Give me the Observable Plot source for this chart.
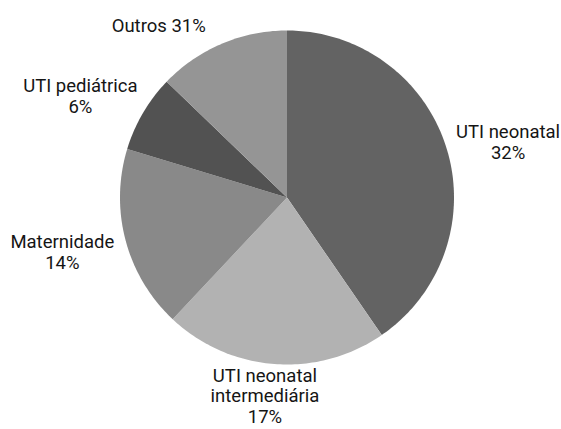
<!DOCTYPE html>
<html>
<head>
<meta charset="utf-8">
<script src="https://cdn.jsdelivr.net/npm/d3@7"></script>
<script src="https://cdn.jsdelivr.net/npm/@observablehq/plot@0.6"></script>
<style>
  html, body { margin: 0; padding: 0; background: #fff; }
  #chart svg { display: block; }
</style>
</head>
<body>
<div id="chart"></div>
<script>
// Categories, clockwise from 12 o'clock
const categories = ["UTI neonatal", "UTI neonatal intermediária", "Maternidade", "UTI pediátrica", "Outros"];
// Slice sizes as drawn in the picture (percent of the full circle)
const sliceShares = [40.4, 21.6, 17.7, 7.5, 12.8];
// Percent labels as printed on the chart
const labelPercents = ["32%", "17%", "14%", "6%", "31%"];
// Label text lines (name part)
const labelNames = [["UTI neonatal"], ["UTI neonatal", "intermediária"], ["Maternidade"], ["UTI pediátrica"], ["Outros"]];
const sliceColors = ["#636363", "#b2b2b2", "#898989", "#525252", "#959595"];

// layout of labels (polar, in pie-radius units) – not data
const labelLayout = [
  {angle: 71.6, radius: 1.395, inline: false},
  {angle: 187.4, radius: 1.026, inline: false},
  {angle: 260.8, radius: 1.363, inline: false},
  {angle: 300.1, radius: 1.430, inline: false},
  {angle: 324.5, radius: 1.323, inline: true}
];

const total = d3.sum(sliceShares);
const toRad = deg => deg * Math.PI / 180;

// Build slice polygons (center + arc), angles clockwise from north
const slicePoints = [];
let start = 0;
categories.forEach((cat, i) => {
  const sweep = sliceShares[i] / total * 360;
  const end = start + sweep;
  slicePoints.push({cat, i, x: 0, y: 0});
  const steps = Math.max(2, Math.ceil(sweep));
  for (let k = 0; k <= steps; k++) {
    const a = toRad(start + sweep * k / steps);
    slicePoints.push({cat, i, x: Math.sin(a), y: Math.cos(a)});
  }
  start = end;
});

const labels = categories.map((cat, i) => {
  const L = labelLayout[i];
  const a = toRad(L.angle);
  const text = L.inline ? labelNames[i].join(" ") + " " + labelPercents[i]
                        : [...labelNames[i], labelPercents[i]].join("\n");
  return {cat, text, x: Math.sin(a) * L.radius, y: Math.cos(a) * L.radius};
});

const chart = Plot.plot({
  width: 561,
  height: 429,
  marginLeft: 119.5,
  marginRight: 107.5,
  marginTop: 30,
  marginBottom: 65,
  x: {domain: [-1, 1], axis: null},
  y: {domain: [-1, 1], axis: null},
  color: {domain: categories, range: sliceColors},
  style: {fontFamily: "Roboto, 'Noto Sans', sans-serif", background: "#fff"},
  marks: [
    Plot.line(slicePoints, {x: "x", y: "y", z: "cat", fill: "cat", stroke: "none", curve: "linear-closed"}),
    Plot.text(labels, {
      x: "x", y: "y", text: "text",
      fontSize: 18.5, lineHeight: 1.1, lineAnchor: "top",
      textAnchor: "middle", fill: "#151515"
    })
  ]
});
document.getElementById("chart").appendChild(chart);
</script>
</body>
</html>
